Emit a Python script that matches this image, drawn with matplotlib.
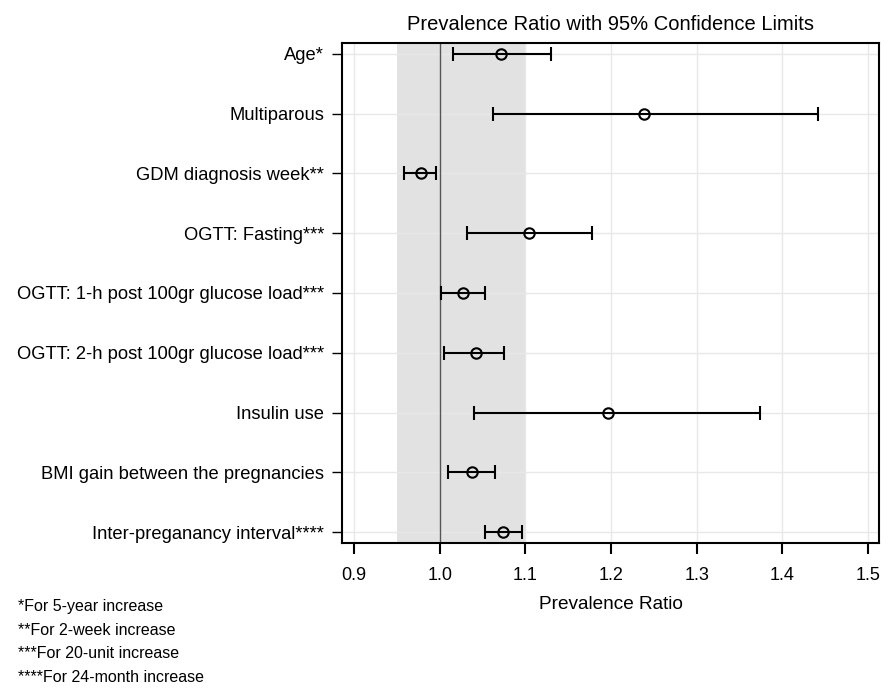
import matplotlib.pyplot as plt
import numpy as np

plt.rcParams["font.family"] = ["Liberation Sans", "DejaVu Sans"]

labels = [
    "Age*",
    "Multiparous",
    "GDM diagnosis week**",
    "OGTT: Fasting***",
    "OGTT: 1-h post 100gr glucose load***",
    "OGTT: 2-h post 100gr glucose load***",
    "Insulin use",
    "BMI gain between the pregnancies",
    "Inter-preganancy interval****",
]
ratio = [1.072, 1.238, 0.978, 1.104, 1.027, 1.042, 1.196, 1.037, 1.074]
lower = [1.015, 1.062, 0.958, 1.032, 1.001, 1.005, 1.040, 1.010, 1.053]
upper = [1.130, 1.442, 0.995, 1.178, 1.053, 1.075, 1.374, 1.064, 1.096]
band = (0.95, 1.10)
xticks = [0.9, 1.0, 1.1, 1.2, 1.3, 1.4, 1.5]
footnotes = [
    "*For 5-year increase",
    "**For 2-week increase",
    "***For 20-unit increase",
    "****For 24-month increase",
]

fig = plt.figure(figsize=(8.93, 6.89), dpi=100)
ax = fig.add_axes([0.3833, 0.2119, 0.601, 0.7257])

ypos = np.arange(len(labels))
ratio = np.array(ratio)
err = np.vstack([ratio - np.array(lower), np.array(upper) - ratio])

ax.axvspan(band[0], band[1], color="#e2e2e2", zorder=0, lw=0)
ax.grid(True, color="#e8e8e8", linewidth=1.0, zorder=0.5)
ax.set_axisbelow(True)
ax.axvline(1.0, color="#555555", linewidth=1.0, zorder=1)

ax.errorbar(ratio, ypos, xerr=err, fmt="o", color="black", mfc="none",
            mec="black", ms=7.5, mew=1.5, elinewidth=1.5, capsize=5,
            capthick=1.5, zorder=3)

ax.set_yticks(ypos)
ax.set_yticklabels(labels, fontsize=13.2)
ax.set_ylim(len(labels) - 1 + 0.18, -0.18)
ax.set_xlim(0.886, 1.513)
ax.set_xticks(xticks)
ax.set_xticklabels([f"{t:.1f}" for t in xticks], fontsize=13)
ax.tick_params(axis="x", length=8, width=1.5, pad=9)
ax.tick_params(axis="y", length=7, width=1.0, pad=6)
for s in ax.spines.values():
    s.set_linewidth(1.5)

ax.set_title("Prevalence Ratio with 95% Confidence Limits", fontsize=14.5, pad=9)
ax.set_xlabel("Prevalence Ratio", fontsize=13.7, labelpad=9)

for i, note in enumerate(footnotes):
    fig.text(18 / 893, 1 - (607 + i * 23.5) / 689, note, fontsize=11.5,
             va="center", ha="left")

fig.savefig("out.png", dpi=100)
